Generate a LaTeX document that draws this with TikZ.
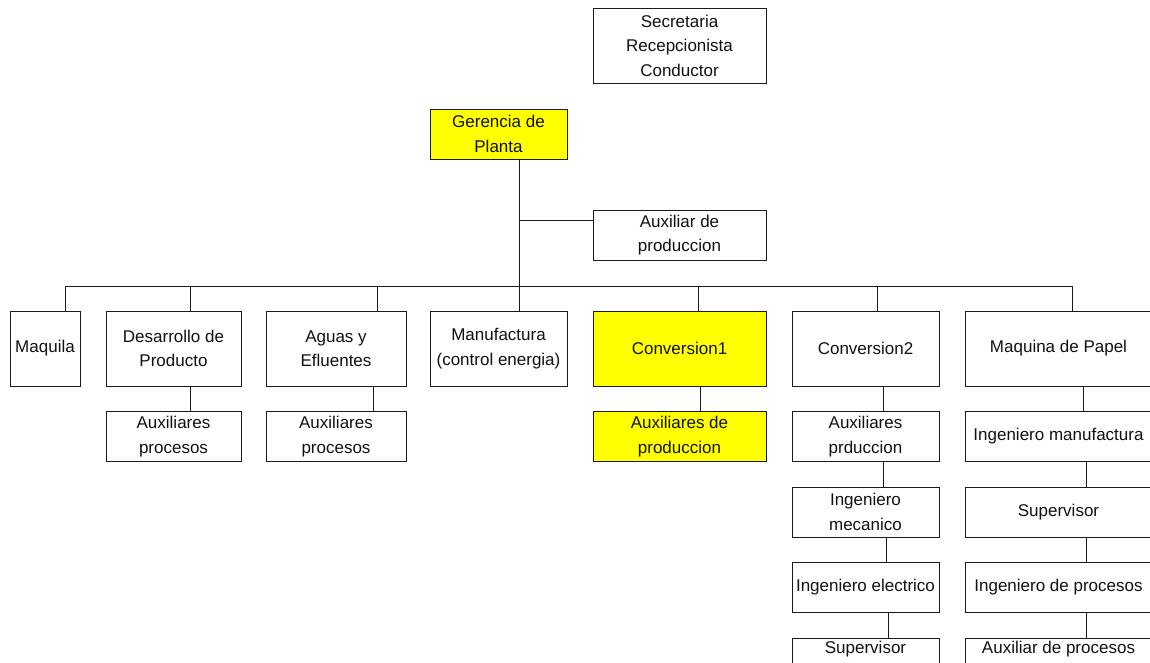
\documentclass[tikz,border=0pt]{standalone}
\usepackage{fontspec}
\setmainfont{Liberation Sans}
\usetikzlibrary{positioning}
\definecolor{Ink}{HTML}{111111}
\definecolor{Edge}{HTML}{1A1A1A}
\definecolor{Mark}{HTML}{FFFF00}
\newcommand{\linkdown}[3]{%
  \draw[line] ([xshift=#3]#1.south) -- ([xshift=#3]#1.south |- #2.north);
}
\tikzset{
  orgbox/.style={draw=Edge,fill=white,line width=0.9pt,inner sep=2pt,outer sep=0pt,align=center,text=Ink,font=\fontsize{17}{24.5}\selectfont},
  topbox/.style={orgbox,minimum height=75pt},
  subbox/.style={orgbox,minimum height=50pt},
  hibox/.style={fill=Mark},
  line/.style={draw=Edge,line width=0.9pt}
}

\begin{document}
\begin{tikzpicture}[x=1pt,y=-1pt,node distance=25.5pt]
  \useasboundingbox (0,0) rectangle (1150,662);
  \clip (0,0) rectangle (1150,662);
  \fill[white] (0,0) rectangle (1150,662);

  % direccion
  \node[orgbox,minimum width=173pt,minimum height=75pt] (secretaria) at (679.5,45.5) {Secretaria\\Recepcionista\\Conductor};
  \node[subbox,hibox,minimum width=137pt] (gerencia) at (498.5,134) {Gerencia de\\Planta};
  \node[subbox,minimum width=173pt] (auxprod) at (679.5,235) {Auxiliar de\\produccion};
  \coordinate (bus) at (519,286);

  % areas
  \node[topbox,minimum width=70pt] (maquila) at (45,348.5) {Maquila};
  \node[topbox,minimum width=135pt] (desarrollo) at (173.5,348.5) {Desarrollo de\\Producto};
  \node[topbox,minimum width=140pt] (aguas) at (336,348.5) {Aguas y\\Efluentes};
  \node[topbox,minimum width=137pt] (manufactura) at (498.5,348.5) {Manufactura\\(control energia)};
  \node[topbox,hibox,minimum width=173pt] (conv1) at (679.5,348.5) {Conversion1};
  \node[topbox,minimum width=147pt] (conv2) at (865.5,348.5) {Conversion2};
  \node[topbox,minimum width=187pt] (papel) at (1058.5,348.5) {Maquina de Papel};

  % auxiliares
  \node[subbox,minimum width=135pt,below=of desarrollo] (auxdes) {Auxiliares\\procesos};
  \node[subbox,minimum width=140pt,below=of aguas] (auxaguas) {Auxiliares\\procesos};
  \node[subbox,hibox,minimum width=173pt,below=of conv1] (auxconv1) {Auxiliares de\\produccion};

  % conversion2
  \node[subbox,minimum width=147pt,below=of conv2] (c2aux) {Auxiliares\\prduccion};
  \node[subbox,minimum width=147pt,below=of c2aux] (c2mec) {Ingeniero\\mecanico};
  \node[subbox,minimum width=147pt,below=of c2mec] (c2ele) {Ingeniero electrico};
  \node[subbox,minimum width=147pt,below=of c2ele] (c2sup) {Supervisor\\\strut};

  % maquina de papel
  \node[subbox,minimum width=187pt,below=of papel] (mpman) {Ingeniero manufactura};
  \node[subbox,minimum width=187pt,below=of mpman] (mpsup) {Supervisor};
  \node[subbox,minimum width=187pt,below=of mpsup] (mppro) {Ingeniero de procesos};
  \node[subbox,minimum width=187pt,below=of mppro] (mpaux) {Auxiliar de procesos\\\strut};

  % lineas
  \draw[line] ([xshift=20.5pt]gerencia.south) -- (bus);
  \draw[line] ([yshift=15pt]auxprod.west) -- ([yshift=15pt]auxprod.west -| bus);
  \draw[line] ([xshift=20pt]maquila.north) |- (bus);
  \draw[line] ([xshift=16.5pt]desarrollo.north) |- (bus);
  \draw[line] ([xshift=41pt]aguas.north) |- (bus);
  \draw[line] ([xshift=20.5pt]manufactura.north) |- (bus);
  \draw[line] ([xshift=18.5pt]conv1.north) |- (bus);
  \draw[line] ([xshift=11.5pt]conv2.north) |- (bus);
  \draw[line] ([xshift=13.5pt]papel.north) |- (bus);

  \linkdown{desarrollo}{auxdes}{16.5pt}
  \linkdown{aguas}{auxaguas}{37pt}
  \linkdown{conv1}{auxconv1}{20.5pt}
  \linkdown{conv2}{c2aux}{17.5pt}
  \linkdown{c2aux}{c2mec}{17.5pt}
  \linkdown{c2mec}{c2ele}{20.5pt}
  \linkdown{c2ele}{c2sup}{22.5pt}
  \linkdown{papel}{mpman}{24.5pt}
  \linkdown{mpman}{mpsup}{27.5pt}
  \linkdown{mpsup}{mppro}{27.5pt}
  \linkdown{mppro}{mpaux}{27.5pt}
\end{tikzpicture}
\end{document}
